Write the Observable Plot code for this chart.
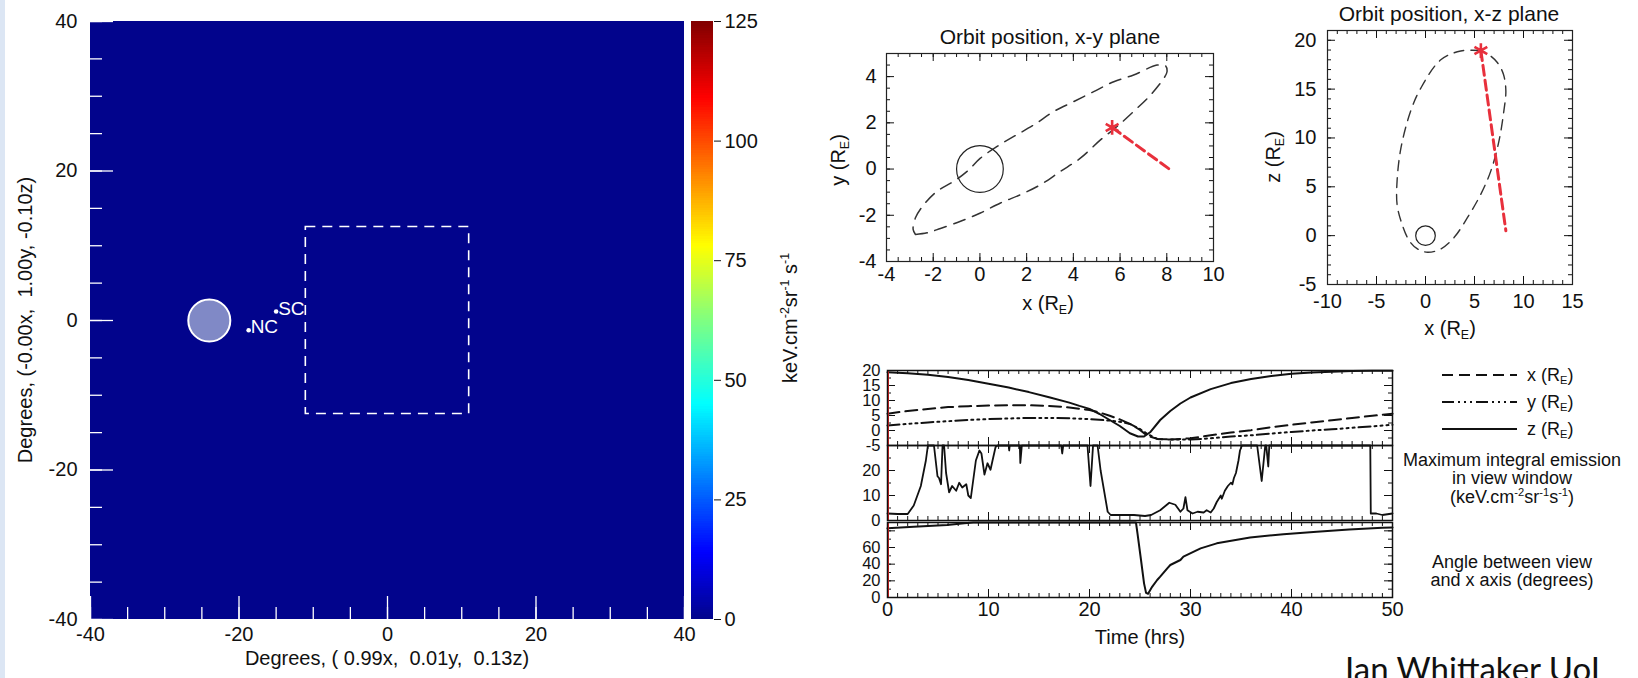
<!DOCTYPE html>
<html><head><meta charset="utf-8">
<script src="https://cdn.jsdelivr.net/npm/d3@7"></script>
<script src="https://cdn.jsdelivr.net/npm/@observablehq/plot@0.6"></script>
<style>
body{margin:0;background:#fff;}
#root{position:relative;width:1638px;height:678px;overflow:hidden;background:#fff;font-family:"Liberation Sans",Arial,Helvetica,sans-serif;color:#111;}
.lab{position:absolute;white-space:pre;line-height:1;}
sup{font-size:0.62em;vertical-align:0.62em;line-height:0}
sub{font-size:0.62em;vertical-align:-0.3em;line-height:0}
</style></head><body><div id="root"></div>
<script>
// ---------------- data ----------------
// Left panel: emission image (all at zero), Earth disc, cusps, view window (degrees)
const skyImage = [{x1: -40, x2: 40, y1: -40, y2: 40, emission: 0}];
const earthDisc = [{x: -24, y: 0}];
const earthDiscRadiusDeg = 2.83;
const cusps = [{name: "NC", x: -18.7, y: -1.3}, {name: "SC", x: -15.0, y: 1.2}];
const viewWindow = [{x1: -11, x2: 11, y1: -12.5, y2: 12.5}];
const mapTicks = [-40, -20, 0, 20, 40];
const colorbarTicks = [0, 25, 50, 75, 100, 125];
const jetDomain = [0, 14, 45, 62.5, 78, 109, 125];
const jetRange = ["#02048c", "#0000ff", "#00ffff", "#80ff80", "#ffff00", "#ff0000", "#800000"];

// Orbit, x-y plane (R_E)
const orbitXY = [[-2.76,-2.83],[-2.26,-2.76],[-1.69,-2.57],[-0.83,-2.26],[0.02,-1.90],[0.88,-1.47],[1.73,-1.11],[2.59,-0.68],[3.45,-0.10],[4.30,0.47],[5.16,1.26],[5.87,1.84],[6.58,2.49],[7.30,3.20],[7.87,3.92],[8.01,4.21],[7.94,4.47],[7.58,4.50],[6.58,4.07],[5.73,3.78],[4.87,3.35],[4.02,2.92],[3.16,2.49],[2.31,1.91],[1.45,1.41],[0.74,0.98],[0.02,0.47],[-0.55,-0.10],[-1.12,-0.53],[-1.83,-0.96],[-2.40,-1.54],[-2.76,-2.11],[-2.86,-2.61],[-2.76,-2.83]];
const starXY = [[5.66, 1.80]];
const viewXY = [[5.66, 1.80], [8.15, -0.03]];
// Orbit, x-z plane (R_E)
const orbitXZ = [[5.65,18.95],[3.6,18.9],[1.56,18.0],[-0.48,15.1],[-1.5,12.8],[-2.5,9.0],[-2.9,5.6],[-2.9,3.2],[-2.5,1.5],[-1.67,-0.5],[-0.82,-1.36],[0.2,-1.7],[1.56,-1.36],[2.93,-0.17],[4.29,1.87],[5.65,4.25],[6.67,6.63],[7.5,9.7],[8.0,12.8],[8.2,14.8],[7.96,16.5],[7.35,17.7],[6.5,18.5],[5.65,18.95]];
const starXZ = [[5.65, 18.95]];
const viewXZ = [[5.65, 18.95], [8.2, 0.5]];
const earth = [[0, 0]];

// Time series (hours, value)
const zPos = [[0,19.4],[2,19.1],[4,18.6],[6,17.8],[8,16.8],[10,15.6],[12,14.3],[14,12.8],[16,11.1],[18,9.3],[19,8.2],[20,7.2],[21,5.5],[22,3.5],[23,1.5],[24,-0.9],[24.8,-2.0],[25.4,-2.0],[26,-0.6],[27,3.5],[28,6.5],[29,9.0],[30,11.0],[32,13.8],[34,15.8],[36,17.2],[38,18.2],[40,18.9],[42,19.3],[44,19.6],[46,19.8],[48,19.9],[50,19.9]];
const xPos = [[0,5.6],[2,6.5],[4,7.2],[6,7.8],[8,8.1],[10,8.3],[12,8.4],[14,8.4],[16,8.2],[18,7.7],[20,6.8],[21,6.0],[22,4.9],[23,3.7],[24,2.2],[25,0.2],[25.7,-1.7],[26.7,-2.8],[28,-3.0],[30,-2.6],[32,-1.6],[34,-0.7],[36,0.1],[38,1.1],[40,1.9],[42,2.7],[44,3.4],[46,4.2],[48,4.9],[50,5.6]];
const yPos = [[0,1.7],[2,2.2],[4,2.7],[6,3.1],[8,3.5],[10,3.8],[12,4.0],[14,4.2],[16,4.2],[18,4.1],[20,3.8],[22,3.3],[23,2.9],[24,2.2],[25,0.5],[25.7,-1.1],[26.7,-2.8],[28,-3.0],[30,-3.0],[32,-2.6],[34,-2.0],[36,-1.6],[38,-1.0],[40,-0.5],[42,0.0],[44,0.4],[46,0.9],[48,1.4],[50,1.9]];
const maxEmission = [[0,2.8],[1,2.6],[2,2.6],[2.6,6],[3.3,13.8],[3.8,24],[4,30],[4.6,30],[4.95,17.7],[5.1,17],[5.3,14.5],[5.45,30],[5.6,30],[5.8,19],[6.1,11.3],[6.4,13.8],[6.8,11.9],[7.1,15.1],[7.4,13.2],[7.8,14.5],[8.0,10],[8.25,9],[8.75,24],[9.1,28],[9.3,26.8],[9.6,18.4],[9.9,22.9],[10.2,20.3],[10.4,24],[10.7,29.4],[10.9,30],[12,30],[12.05,28],[12.1,30],[13.1,30],[13.15,23],[13.3,30],[17.2,30],[17.3,26.8],[17.4,30],[19.8,30],[20.1,13.8],[20.35,30],[20.8,30],[21.1,20],[21.8,3.5],[22.1,2.2],[24.4,2.2],[25.5,1.8],[26.1,2.2],[27,4.1],[27.9,7.1],[28.5,6.3],[29,3.5],[29.3,4.8],[29.5,9.3],[29.7,4.1],[30.2,2.8],[30.7,3.5],[31.3,3.2],[31.6,4.1],[32,3.2],[32.3,4.8],[32.6,7.4],[33,10],[33.1,8.7],[33.4,11.9],[33.7,13.8],[34,15.1],[34.15,14.5],[34.3,17],[34.5,19],[34.75,24],[34.9,28],[35.1,30],[36.6,30],[37.05,15.8],[37.4,30],[37.5,30],[37.7,21.6],[37.8,30],[47.8,30],[47.85,2.8],[48.4,2.8],[49,2.2],[50,2.8]];
const viewAngle = [[0,83],[2.6,85],[5.9,87],[7.6,89],[8.5,90],[24.6,90],[24.75,77],[25.1,45],[25.4,17],[25.6,5.6],[25.8,4.5],[26.2,12.8],[26.7,21],[27,25],[27.7,35],[28,39],[29,45],[29.3,49],[31,59],[32.6,65],[35.9,72],[39.2,76],[42.5,79],[45.7,81.6],[49,83.6],[50,84]];
const timeTicks = [0, 10, 20, 30, 40, 50];

// ---------------- helpers ----------------
const FONT = '"Liberation Sans", Arial, Helvetica, sans-serif';
const root = document.getElementById("root");
const fmt = d => String(d);
const jet = {type: "linear", domain: jetDomain, range: jetRange};
const RED = "#e8303c";
function mount(node, left, top) {
  node.style.position = "absolute"; node.style.left = left + "px"; node.style.top = top + "px";
  root.appendChild(node);
}
function label(html, x, y, o = {}) {
  const d = document.createElement("div");
  d.className = "lab"; d.innerHTML = html;
  d.style.left = x + "px"; d.style.top = y + "px";
  d.style.fontSize = (o.size || 20) + "px";
  d.style.fontFamily = o.family || FONT;
  d.style.color = o.color || "#111";
  const tr = o.anchor === "start" ? "translate(0,-50%)" : "translate(-50%,-50%)";
  d.style.transform = tr + (o.rot ? " rotate(-90deg)" : "");
  root.appendChild(d);
  return d;
}
function style(size) {
  return {fontFamily: FONT, fontSize: size + "px", color: "#111", background: "transparent", overflow: "visible"};
}
// inward ticks drawn through the plot's own scales
function inTicks(xd, yd, w, h, o) {
  const [x0, x1] = xd, [y0, y1] = yd;
  const kx = w / (x1 - x0), ky = h / (y1 - y0);
  const st = {stroke: o.stroke || "#111", strokeWidth: o.sw || 1};
  const marks = [];
  const add = (vals, len, side) => {
    if (side === "bottom") marks.push(Plot.ruleX(vals, {x: d => d, y1: y0, y2: y0 + len / ky, ...st}));
    if (side === "top") marks.push(Plot.ruleX(vals, {x: d => d, y1: y1, y2: y1 - len / ky, ...st}));
    if (side === "left") marks.push(Plot.ruleY(vals, {y: d => d, x1: x0, x2: x0 + len / kx, ...st}));
    if (side === "right") marks.push(Plot.ruleY(vals, {y: d => d, x1: x1, x2: x1 - len / kx, ...st}));
  };
  const rng = (a, b, s) => d3.range(a, b + s / 1000, s);
  for (const s of o.sides) {
    if (s === "top" || s === "bottom") { add(rng(x0, x1, o.xMin), o.min, s); add(rng(x0, x1, o.xMaj), o.maj, s); }
    else { add(rng(y0, y1, o.yMin), o.min, s); add(rng(y0, y1, o.yMaj), o.maj, s); }
  }
  return marks;
}

// ---------------- left: emission map ----------------
const strip = document.createElement("div");
strip.style.cssText = "position:absolute;left:0;top:0;width:5px;height:678px;background:#dce6f4";
root.appendChild(strip);

const mapW = 594, mapH = 598;
mount(Plot.plot({
  width: 90 + mapW + 6, height: 678,
  marginLeft: 90, marginRight: 6, marginTop: 21, marginBottom: 678 - 21 - mapH,
  x: {domain: [-40, 40], ticks: mapTicks, tickSize: 0, tickPadding: 7, tickFormat: fmt, label: null},
  y: {domain: [-40, 40], ticks: mapTicks, tickSize: 0, tickPadding: 13, tickFormat: fmt, label: null},
  color: jet,
  style: style(20),
  marks: [
    Plot.rect(skyImage, {x1: "x1", x2: "x2", y1: "y1", y2: "y2", fill: "emission"}),
    Plot.rect(viewWindow, {x1: "x1", x2: "x2", y1: "y1", y2: "y2", fill: "none", stroke: "#fff", strokeWidth: 1.6, strokeDasharray: "10,7"}),
    Plot.dot(earthDisc, {x: "x", y: "y", r: earthDiscRadiusDeg * mapW / 80, fill: "#8089c6", stroke: "#fff", strokeWidth: 2}),
    Plot.dot(cusps, {x: "x", y: "y", r: 2.3, fill: "#fff"}),
    Plot.text(cusps, {x: "x", y: "y", text: "name", fill: "#fff", textAnchor: "start", lineAnchor: "bottom", dx: 2, dy: 3, fontSize: 19}),
    ...inTicks([-40, 40], [-40, 40], mapW, mapH, {sides: ["left", "bottom"], xMaj: 20, xMin: 5, yMaj: 20, yMin: 5, maj: 23, min: 12, stroke: "#fff", sw: 1.3})
  ]
}), 0, 0);

// colour bar
mount(Plot.plot({
  width: 1 + 22 + 80, height: 678,
  marginLeft: 1, marginRight: 80, marginTop: 21, marginBottom: 678 - 21 - mapH,
  x: {domain: [0, 1], axis: null},
  y: {domain: [0, 125], axis: "right", ticks: colorbarTicks, tickSize: 7, tickPadding: 4, tickFormat: fmt, label: null},
  color: jet,
  style: style(20),
  marks: [
    Plot.rect(d3.range(0, 125, 0.5), {x1: 0, x2: 1, y1: d => d, y2: d => d + 0.5, fill: d => d + 0.25, shapeRendering: "crispEdges"})
  ]
}), 690, 0);

label("Degrees, (-0.00x,  1.00y, -0.10z)", 25, 320, {rot: true});
label("Degrees, ( 0.99x,  0.01y,  0.13z)", 387, 658);
label("keV.cm<sup>-2</sup>sr<sup>-1</sup> s<sup>-1</sup>", 790, 318, {rot: true});

// ---------------- x-y orbit ----------------
const xyW = 327, xyH = 208;
mount(Plot.plot({
  width: 86 + xyW + 20, height: 53 + xyH + 39,
  marginLeft: 86, marginRight: 20, marginTop: 53, marginBottom: 39,
  x: {domain: [-4, 10], ticks: d3.range(-4, 11, 2), tickSize: 0, tickPadding: 5, tickFormat: fmt, label: null},
  y: {domain: [-4, 5], ticks: [-4, -2, 0, 2, 4], tickSize: 0, tickPadding: 10, tickFormat: fmt, label: null},
  style: style(20),
  marks: [
    Plot.line(orbitXY, {x: d => d[0], y: d => d[1], stroke: "#333", strokeWidth: 1.5, strokeDasharray: "12,8", curve: "catmull-rom"}),
    Plot.dot(earth, {x: d => d[0], y: d => d[1], r: xyW / 14, stroke: "#222", strokeWidth: 1.2, fill: "none"}),
    Plot.line(viewXY, {x: d => d[0], y: d => d[1], stroke: RED, strokeWidth: 3, strokeDasharray: "10,5"}),
    Plot.dot(starXY, {x: d => d[0], y: d => d[1], symbol: "asterisk", r: 7, stroke: RED, strokeWidth: 2.6}),
    ...inTicks([-4, 10], [-4, 5], xyW, xyH, {sides: ["left", "right", "top", "bottom"], xMaj: 2, xMin: 0.5, yMaj: 2, yMin: 0.5, maj: 8, min: 4}),
    Plot.frame({stroke: "#222", strokeWidth: 1.2})
  ]
}), 800, 0);
label("Orbit position, x-y plane", 1050, 36, {size: 21});
label("y (R<sub>E</sub>)", 838, 160, {rot: true});
label("x (R<sub>E</sub>)", 1048, 303);

// ---------------- x-z orbit ----------------
const xzW = 245, xzH = 254;
mount(Plot.plot({
  width: 67 + xzW + 20, height: 30 + xzH + 56,
  marginLeft: 67, marginRight: 20, marginTop: 30, marginBottom: 56,
  x: {domain: [-10, 15], ticks: [-10, -5, 0, 5, 10, 15], tickSize: 0, tickPadding: 9, tickFormat: fmt, label: null},
  y: {domain: [-5, 21], ticks: [-5, 0, 5, 10, 15, 20], tickSize: 0, tickPadding: 11, tickFormat: fmt, label: null},
  style: style(20),
  marks: [
    Plot.line(orbitXZ, {x: d => d[0], y: d => d[1], stroke: "#333", strokeWidth: 1.4, strokeDasharray: "10,7", curve: "catmull-rom"}),
    Plot.dot(earth, {x: d => d[0], y: d => d[1], r: xzW / 25, stroke: "#222", strokeWidth: 1.2, fill: "none"}),
    Plot.line(viewXZ, {x: d => d[0], y: d => d[1], stroke: RED, strokeWidth: 3, strokeDasharray: "10,5"}),
    Plot.dot(starXZ, {x: d => d[0], y: d => d[1], symbol: "asterisk", r: 7, stroke: RED, strokeWidth: 2.6}),
    ...inTicks([-10, 15], [-5, 21], xzW, xzH, {sides: ["left", "right", "top", "bottom"], xMaj: 5, xMin: 1, yMaj: 5, yMin: 1, maj: 8, min: 4}),
    Plot.frame({stroke: "#222", strokeWidth: 1.2})
  ]
}), 1260, 0);
label("Orbit position, x-z plane", 1449, 13, {size: 21});
label("z (R<sub>E</sub>)", 1273, 157, {rot: true});
label("x (R<sub>E</sub>)", 1450, 328);

// ---------------- time series ----------------
const tsW = 505, tsH = 75, tsML = 87;
const line = (data, extra = {}) => Plot.line(data, {x: d => d[0], y: d => d[1], stroke: "#111", strokeWidth: 2, ...extra});
const redEdge = Plot.ruleX([0], {stroke: "#e02020", strokeWidth: 1, dx: 1});
function tsPlot(yDomain, yTicks, marks, opts) {
  return Plot.plot({
    width: tsML + tsW + 10, height: opts.mt + tsH + opts.mb,
    marginLeft: tsML, marginRight: 10, marginTop: opts.mt, marginBottom: opts.mb,
    x: {domain: [0, 50], ticks: opts.xAxis ? timeTicks : [], axis: opts.xAxis ? "bottom" : null, tickSize: 0, tickPadding: 4, tickFormat: fmt, label: null},
    y: {domain: yDomain, ticks: yTicks, tickSize: 0, tickPadding: 7, tickFormat: fmt, label: null},
    style: style(16.5),
    marks: [
      ...marks,
      ...inTicks([0, 50], yDomain, tsW, tsH, {sides: ["left", "right", "top", "bottom"], xMaj: 10, xMin: 1, yMaj: opts.yMaj, yMin: opts.yMin, maj: 8, min: 4}),
      redEdge,
      Plot.frame({stroke: "#111", strokeWidth: 1.5})
    ]
  });
}
const topTs = tsPlot([-5, 20], [-5, 0, 5, 10, 15, 20], [
  line(xPos, {strokeDasharray: "12,6"}),
  line(yPos, {strokeDasharray: "12,4,2,4,2,4,2,4"}),
  line(zPos)
], {mt: 10, mb: 0, yMaj: 5, yMin: 2.5});
mount(topTs, 800, 360);
const midTs = tsPlot([0, 30], [0, 10, 20], [line(maxEmission, {strokeWidth: 1.8})], {mt: 0, mb: 0, yMaj: 10, yMin: 5});
mount(midTs, 800, 445);
const botTs = tsPlot([0, 90], [0, 20, 40, 60], [line(viewAngle)], {mt: 0, mb: 65, yMaj: 20, yMin: 10, xAxis: true});
botTs.querySelectorAll("[aria-label='x-axis'] text, [aria-label='x-axis tick label'] text").forEach(t => t.style.fontSize = "20px");
mount(botTs, 800, 522);
label("Time (hrs)", 1140, 637);

// legend
const lg = d3.create("svg").attr("width", 80).attr("height", 80);
const lgLines = [{y: 6, dash: "11,6"}, {y: 33, dash: "12,4,2,4,2,4,2,4"}, {y: 60, dash: null}];
lg.selectAll("line").data(lgLines).join("line")
  .attr("x1", 1).attr("x2", 76).attr("y1", d => d.y).attr("y2", d => d.y)
  .attr("stroke", "#111").attr("stroke-width", 2.2).attr("stroke-dasharray", d => d.dash);
mount(lg.node(), 1441, 369);
label("x (R<sub>E</sub>)", 1527, 375, {size: 18, anchor: "start"});
label("y (R<sub>E</sub>)", 1527, 402, {size: 18, anchor: "start"});
label("z (R<sub>E</sub>)", 1527, 429, {size: 18, anchor: "start"});
label("Maximum integral emission", 1512, 460, {size: 18});
label("in view window", 1512, 478, {size: 18});
label("(keV.cm<sup>-2</sup>sr<sup>-1</sup>s<sup>-1</sup>)", 1512, 497, {size: 18});
label("Angle between view", 1512, 562, {size: 18});
label("and x axis (degrees)", 1512, 580, {size: 18});

// credit
label("Ian Whittaker UoL", 1345, 668, {size: 33, anchor: "start", family: "Lato, 'Open Sans', sans-serif", color: "#111"});
</script></body></html>
